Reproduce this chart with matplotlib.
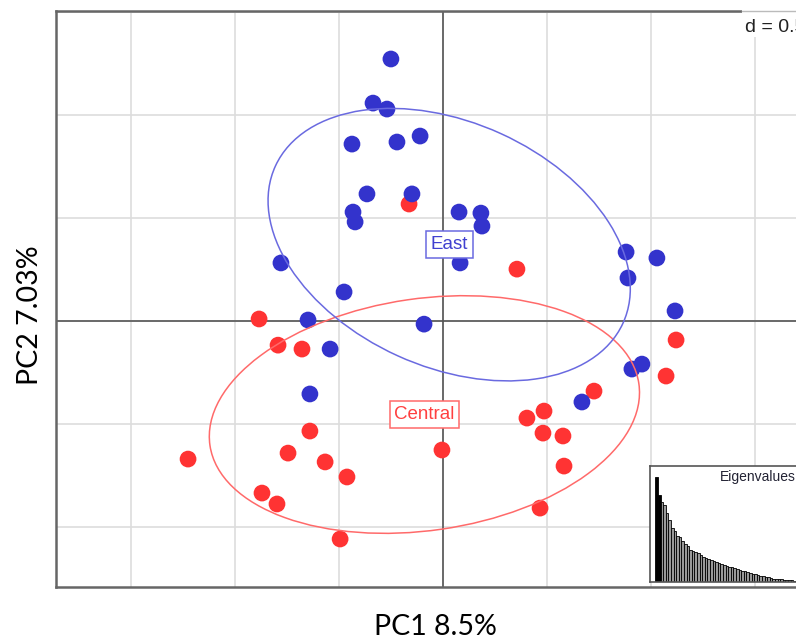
import numpy as np
import matplotlib.pyplot as plt
from matplotlib.patches import Ellipse, Rectangle

# coordinate individui sui primi due assi
east_x = [-0.250, -0.336, -0.269, -0.437, -0.221, -0.110, -0.365, -0.149, -0.432,
          -0.422, 0.077, 0.182, 0.187, 0.082, 0.879, 1.027, 0.888, 1.114, -0.778,
          -0.475, -0.648, -0.091, -0.542, -0.639, 0.907, 0.955, 0.667]
east_y = [1.272, 1.058, 1.029, 0.859, 0.869, 0.898, 0.617, 0.617, 0.529,
          0.481, 0.529, 0.524, 0.461, 0.282, 0.335, 0.306, 0.209, 0.049, 0.282,
          0.141, 0.005, -0.015, -0.136, -0.354, -0.233, -0.209, -0.393]

central_x = [-0.163, 0.355, -0.883, -0.792, -0.677, 1.119, 1.071, 0.725, 0.485,
             0.403, 0.480, 0.576, -0.005, 0.581, 0.466, -0.639, -0.744, -1.224,
             -0.566, -0.461, -0.869, -0.797, -0.494]
central_y = [0.568, 0.252, 0.010, -0.117, -0.136, -0.092, -0.267, -0.340, -0.437,
             -0.471, -0.544, -0.558, -0.626, -0.704, -0.908, -0.534, -0.641, -0.670,
             -0.684, -0.757, -0.835, -0.888, -1.058]

# autovalori (% varianza), stimati dal barplot in basso a destra
eig = [8.50, 7.03, 6.48, 6.23, 5.59, 5.02, 4.37, 4.13, 3.72, 3.64,
       3.32, 3.08, 2.91, 2.59, 2.51, 2.43, 2.35, 2.19, 2.02, 1.94,
       1.86, 1.78, 1.70, 1.62, 1.54, 1.46, 1.38, 1.30, 1.21, 1.19,
       1.13, 1.05, 0.97, 0.93, 0.89, 0.85, 0.69, 0.65, 0.61, 0.57,
       0.49, 0.45, 0.40, 0.39, 0.36, 0.28, 0.24, 0.23, 0.22, 0.20,
       0.16, 0.15, 0.14, 0.12, 0.11, 0.08]

xlab = "PC1 8.5%"
ylab = "PC2 7.03%"
d_grid = 0.5

W, H = 796, 642
fig = plt.figure(figsize=(W / 100, H / 100), dpi=100)

# l'area del grafico esce a destra dall'immagine (come nel ritaglio originale)
L, R, T, B = 56, 830, 11, 587
ax = fig.add_axes([L / W, 1 - B / H, (R - L) / W, (B - T) / H])
ax.set_xlim(-1.858, 1.858)
ax.set_ylim(-1.291, 1.505)
ax.set_xticks([])
ax.set_yticks([])
for s in ax.spines.values():
    s.set_color("#666666")
    s.set_linewidth(1.8)

# griglia tipo ade4
for g in np.arange(-1.5, 1.51, d_grid):
    ax.axvline(g, color="#dddddd", lw=1.2, zorder=0)
for g in np.arange(-1.0, 1.51, d_grid):
    ax.axhline(g, color="#dddddd", lw=1.2, zorder=0)
ax.axvline(0, color="#555555", lw=1.2, zorder=0.5)
ax.axhline(0, color="#555555", lw=1.2, zorder=0.5)

gruppi = [
    ("Central", central_x, central_y, "#ff3333", "#ff6a6a", "#ff4040"),
    ("East", east_x, east_y, "#3333cc", "#6a6ae0", "#4040d0"),
]

for nome, gx, gy, col, _, _ in gruppi:
    ax.scatter(gx, gy, s=145, color=col, edgecolors="none", zorder=2)


def ellisse(x, y, coeff=1.5):
    # come util.ellipse di ade4: covarianza con pesi 1/n
    x = np.asarray(x)
    y = np.asarray(y)
    mx, my = x.mean(), y.mean()
    c = np.cov(x, y, bias=True)
    val, vec = np.linalg.eigh(c)
    ang = np.degrees(np.arctan2(vec[1, 1], vec[0, 1]))
    return mx, my, 2 * coeff * np.sqrt(val[1]), 2 * coeff * np.sqrt(val[0]), ang


for nome, gx, gy, col, ecol, tcol in gruppi:
    mx, my, w, h, ang = ellisse(gx, gy)
    ax.add_patch(Ellipse((mx, my), w, h, angle=ang, fill=False,
                         edgecolor=ecol, lw=1.1, zorder=3))
    ax.text(mx, my, nome, ha="center", va="center", fontsize=13.5,
            family="Liberation Sans", color=tcol, zorder=5,
            bbox=dict(boxstyle="square,pad=0.25", fc="white", ec=ecol, lw=1.1))

# riquadro "d = 0.5"
fig.patches.append(Rectangle((742 / W, 1 - 37 / H), 60 / W, 28 / H,
                             transform=fig.transFigure, fc="white",
                             ec="none", zorder=10))
fig.lines.append(plt.Line2D([742 / W, 1], [1 - 11 / H, 1 - 11 / H],
                            transform=fig.transFigure, color="#bbbbbb",
                            lw=1, zorder=10.5))
fig.text(745 / W, 1 - 27 / H, "d = %g" % d_grid, ha="left", va="center",
         fontsize=14, family="Liberation Sans", color="#222222", zorder=11)

# inset con gli autovalori
iL, iR, iT, iB = 650, 812, 466, 582
ins = fig.add_axes([iL / W, 1 - iB / H, (iR - iL) / W, (iB - iT) / H])
px_bar = 2.6
xl = -0.5 - 5.3 / px_bar
ins.set_xlim(xl, xl + (iR - iL) / px_bar)
ins.set_ylim(0, eig[0] * 116 / 105)
colori = ["black", "black"] + ["#9a9a9a"] * (len(eig) - 2)
ins.bar(np.arange(len(eig)), eig, width=1.0, color=colori,
        edgecolor="black", linewidth=0.6)
ins.set_xticks([])
ins.set_yticks([])
for s in ins.spines.values():
    s.set_color("#555555")
    s.set_linewidth(1.2)
ins.text((720 - iL) / (iR - iL), (iB - 477) / (iB - iT), "Eigenvalues",
         transform=ins.transAxes, ha="left", va="center", fontsize=10,
         family="Liberation Sans", color="#222233")

fig.text(435 / W, 1 - 627 / H, xlab, ha="center", va="center",
         fontsize=20.5, family="Lato")
fig.text(30 / W, 1 - 315 / H, ylab, ha="center", va="center",
         fontsize=20.5, family="Lato", rotation=90)

fig.savefig("out.png", dpi=100)
